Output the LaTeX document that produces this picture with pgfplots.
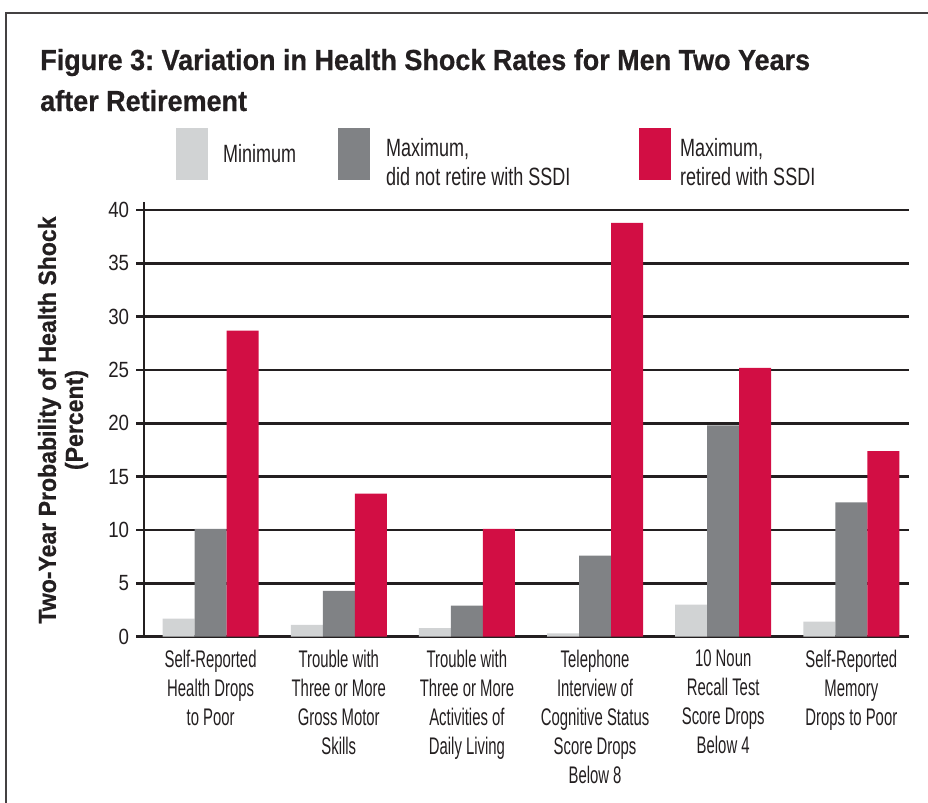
\documentclass[border=0pt]{standalone}
\usepackage{fontspec}
\setmainfont{Liberation Sans}
\newfontfamily\titlefont{Liberation Sans Bold}[FakeStretch=0.93, FakeBold=0.6]
\newfontfamily\labfont{Liberation Sans}[FakeStretch=0.62]
\newfontfamily\legfont{Liberation Sans}[FakeStretch=0.72]
\newfontfamily\numfont{Liberation Sans}[FakeStretch=0.85]
\usepackage{pgfplots}
\pgfplotsset{compat=1.18}
\frenchspacing

\definecolor{cmin}{RGB}{209,211,212}
\definecolor{cmax}{RGB}{128,130,133}
\definecolor{cssdi}{RGB}{210,14,68}
\definecolor{ink}{RGB}{35,31,32}

\begin{document}
\begin{tikzpicture}
% pixel grid of the reference, y downwards
\begin{scope}[x=0.75pt,y=-0.75pt]
\useasboundingbox (0,0) rectangle (928,803);
\draw[ink!85, line width=1.5pt] (6,815) -- (6,13) -- (940,13);
\node[anchor=base west, inner sep=0pt, text=ink, font=\titlefont\fontsize{21.75}{26}\selectfont]
  at (40,70) {Figure 3: Variation in Health Shock Rates for Men Two Years};
\node[anchor=base west, inner sep=0pt, text=ink, font=\titlefont\fontsize{21.75}{26}\selectfont]
  at (40,111) {after Retirement};
\node[rotate=90, align=center, inner sep=0pt, text=ink, font=\titlefont\fontsize{18.6}{20.25}\selectfont]
  at (63,420) {Two-Year Probability of Health Shock\\(Percent)};
\end{scope}

\begin{axis}[
  at={(108pt,-477.5pt)}, anchor=south west,
  scale only axis, width=573.75pt, height=326.25pt,
  ybar=0pt, bar width=24pt,
  ymin=0, ymax=40.78, xmin=-0.52, xmax=5.45,
  axis x line*=bottom, axis y line*=left,
  axis line style={ink, line width=2pt},
  ytick={0,5,...,40}, xtick={0,...,5},
  xticklabels={
    {Self-Reported\\Health Drops\\to Poor},
    {Trouble with\\Three or More\\Gross Motor\\Skills},
    {Trouble with\\Three or More\\Activities of\\Daily Living},
    {Telephone\\Interview of\\Cognitive Status\\Score Drops\\Below 8},
    {10 Noun\\Recall Test\\Score Drops\\Below 4},
    {Self-Reported\\Memory\\Drops to Poor}},
  ymajorgrids, grid style={ink, line width=2pt},
  tick align=outside, major tick length=6pt,
  ytick style={ink, line width=2pt}, xtick style={draw=none},
  /pgf/number format/assume math mode=true,
  yticklabel style={font=\numfont\fontsize{16.5}{18}\selectfont, text=ink, inner sep=0pt, xshift=-5pt},
  xticklabel style={font=\labfont\fontsize{18}{21.75}\selectfont, text=ink, align=center, anchor=north, inner sep=0pt, yshift=-3.5pt},
  legend columns=3,
  legend style={at={(rel axis cs:0.0418,1.1694)}, anchor=north west, draw=none, fill=none,
    inner sep=0pt, column sep=0pt, cells={anchor=west}, nodes={inner sep=0pt},
    font=\legfont\fontsize{18.75}{21.75}\selectfont, text=ink},
]
\addplot[fill=cmin, draw=none,
  legend image code/.code={\fill[cmin] (0pt,-19.5pt) rectangle (24pt,19.5pt); \path (35.25pt,0pt);}]
  coordinates {(0,1.7) (1,1.1) (2,0.8) (3,0.3) (4,3.0) (5,1.4)};
\addlegendentry{\makebox[86.25pt][l]{Minimum}}
\addplot[fill=cmax, draw=none,
  legend image code/.code={\fill[cmax] (0pt,-19.5pt) rectangle (24pt,19.5pt); \path (36pt,0pt);}]
  coordinates {(0,10.1) (1,4.3) (2,2.9) (3,7.6) (4,19.8) (5,12.6)};
\addlegendentry{\parbox{189.75pt}{\raggedright Maximum,\\did not retire with SSDI}}
\addplot[fill=cssdi, draw=none,
  legend image code/.code={\fill[cssdi] (0pt,-19.5pt) rectangle (24pt,19.5pt); \path (30.75pt,0pt);}]
  coordinates {(0,28.7) (1,13.4) (2,10.1) (3,38.8) (4,25.2) (5,17.4)};
\addlegendentry{\parbox{150pt}{\raggedright Maximum,\\retired with SSDI}}
\end{axis}
\end{tikzpicture}
\end{document}
